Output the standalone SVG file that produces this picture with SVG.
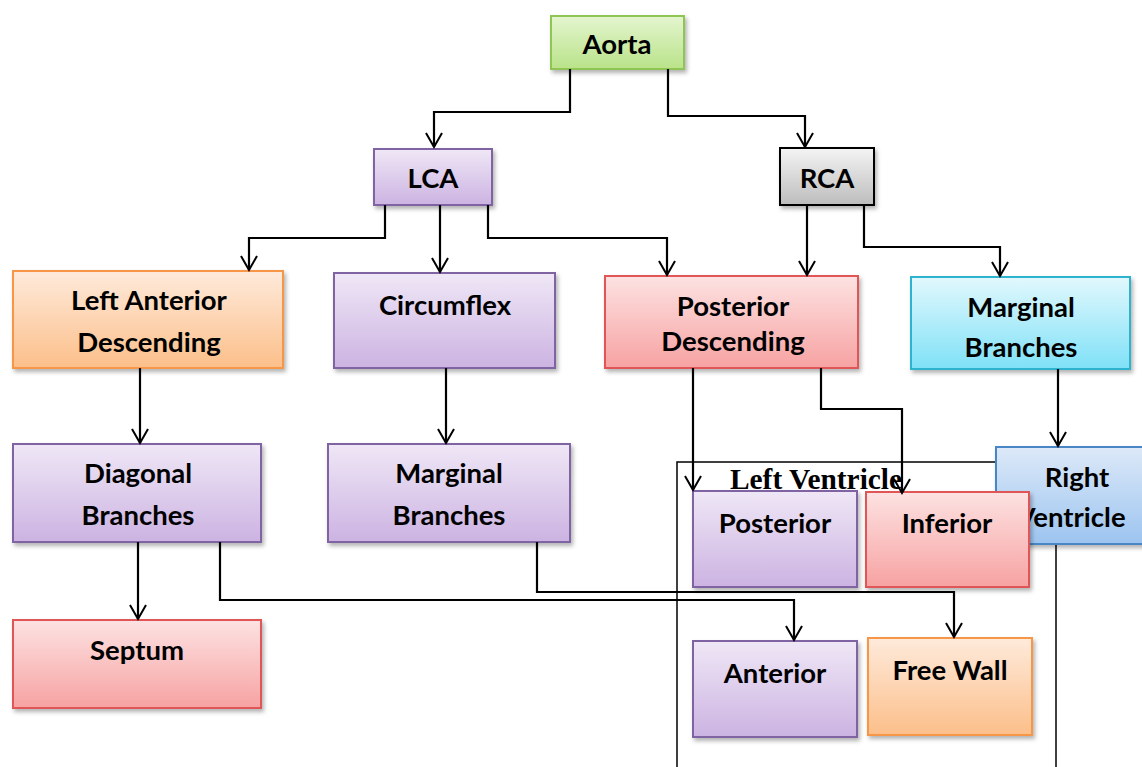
<svg xmlns="http://www.w3.org/2000/svg" width="1142" height="767" viewBox="0 0 1142 767">
<defs>
<linearGradient id="gGreen" x1="0" y1="0" x2="0" y2="1"><stop offset="0" stop-color="#e4f5cf"/><stop offset="1" stop-color="#b9e389"/></linearGradient>
<linearGradient id="gPurple" x1="0" y1="0" x2="0" y2="1"><stop offset="0" stop-color="#efe7f6"/><stop offset="1" stop-color="#ccb3e2"/></linearGradient>
<linearGradient id="gOrange" x1="0" y1="0" x2="0" y2="1"><stop offset="0" stop-color="#feeadb"/><stop offset="1" stop-color="#fcbf8a"/></linearGradient>
<linearGradient id="gRed" x1="0" y1="0" x2="0" y2="1"><stop offset="0" stop-color="#fde2e2"/><stop offset="1" stop-color="#f7a2a2"/></linearGradient>
<linearGradient id="gCyan" x1="0" y1="0" x2="0" y2="1"><stop offset="0" stop-color="#e2f8fd"/><stop offset="1" stop-color="#7fe1f7"/></linearGradient>
<linearGradient id="gBlue" x1="0" y1="0" x2="0" y2="1"><stop offset="0" stop-color="#dde9f8"/><stop offset="1" stop-color="#9cc4f0"/></linearGradient>
<linearGradient id="gGray" x1="0" y1="0" x2="0" y2="1"><stop offset="0" stop-color="#f4f4f4"/><stop offset="1" stop-color="#bdbdbd"/></linearGradient>
<filter id="sh" x="-10%" y="-10%" width="125%" height="130%"><feDropShadow dx="2" dy="3" stdDeviation="2" flood-color="#000" flood-opacity="0.3"/></filter>
<marker id="arr" viewBox="-16 -10 18 20" refX="0" refY="0" markerWidth="18" markerHeight="20" markerUnits="userSpaceOnUse" orient="auto" overflow="visible">
<path d="M-14,-8 L0,0 L-14,8" fill="none" stroke="#000" stroke-width="2"/>
</marker>
</defs>
<style>
.box{stroke-width:2;filter:url(#sh)}
.green{fill:url(#gGreen);stroke:#8fc553}
.purple{fill:url(#gPurple);stroke:#8064a2}
.orange{fill:url(#gOrange);stroke:#f79646}
.red{fill:url(#gRed);stroke:#e05555}
.cyan{fill:url(#gCyan);stroke:#2fb3cf}
.blue{fill:url(#gBlue);stroke:#4a86c5}
.gray{fill:url(#gGray);stroke:#000}
.t{font-family:Lato,"Liberation Sans",sans-serif;font-weight:700;font-size:27.5px;fill:#000;text-anchor:middle}
.c{fill:none;stroke:#000;stroke-width:2}
.ca{fill:none;stroke:#000;stroke-width:2.2;marker-end:url(#arr)}
.frame{fill:none;stroke:#000;stroke-width:1.5}
.lv{font-family:"Liberation Serif",serif;font-weight:700;font-size:29px;fill:#000}
</style>

<g id="lv-frame">
<rect class="frame" x="677" y="462" width="379" height="320"/>
<text class="lv" x="730" y="489" textLength="172" lengthAdjust="spacingAndGlyphs">Left Ventricle</text>
</g>

<g id="aorta"><rect class="box green" x="551" y="16" width="133" height="53"/><text class="t" x="617" y="54">Aorta</text></g>
<g id="lca"><rect class="box purple" x="374" y="149" width="118" height="56"/><text class="t" x="433" y="188">LCA</text></g>
<g id="rca"><rect class="box gray" x="780" y="148" width="94" height="57"/><text class="t" x="827" y="188">RCA</text></g>
<g id="lad"><rect class="box orange" x="13" y="271" width="270" height="97"/><text class="t" x="149" y="310">Left Anterior</text><text class="t" x="149" y="352">Descending</text></g>
<g id="circumflex"><rect class="box purple" x="334" y="273" width="221" height="95"/><text class="t" x="445" y="315">Circumflex</text></g>
<g id="pda"><rect class="box red" x="605" y="276" width="253" height="92"/><text class="t" x="733" y="316">Posterior</text><text class="t" x="733" y="351">Descending</text></g>
<g id="marginal-r"><rect class="box cyan" x="911" y="277" width="219" height="92"/><text class="t" x="1021" y="317">Marginal</text><text class="t" x="1021" y="357">Branches</text></g>
<g id="diagonal"><rect class="box purple" x="13" y="444" width="248" height="98"/><text class="t" x="138" y="483">Diagonal</text><text class="t" x="138" y="525">Branches</text></g>
<g id="marginal-l"><rect class="box purple" x="328" y="444" width="242" height="98"/><text class="t" x="449" y="483">Marginal</text><text class="t" x="449" y="525">Branches</text></g>
<g id="septum"><rect class="box red" x="13" y="620" width="248" height="88"/><text class="t" x="137" y="660">Septum</text></g>
<g id="right-ventricle"><rect class="box blue" x="996" y="447" width="170" height="97"/><text class="t" x="1077" y="487">Right</text><text class="t" x="1071" y="527">Ventricle</text></g>
<g id="posterior"><rect class="box purple" x="693" y="491" width="164" height="96"/><text class="t" x="775" y="533">Posterior</text></g>
<g id="inferior"><rect class="box red" x="866" y="492" width="163" height="95"/><text class="t" x="947" y="533">Inferior</text></g>
<g id="anterior"><rect class="box purple" x="693" y="641" width="164" height="96"/><text class="t" x="775" y="683">Anterior</text></g>
<g id="free-wall"><rect class="box orange" x="868" y="638" width="164" height="97"/><text class="t" x="950" y="680">Free Wall</text></g>

<g id="connectors">
<path class="ca" d="M570,69 V112 H434 V147"/>
<path class="ca" d="M668,69 V116 H805 V147"/>
<path class="ca" d="M385,205 V238 H249 V270"/>
<path class="ca" d="M440,205 V272"/>
<path class="ca" d="M488,205 V238 H667 V275"/>
<path class="ca" d="M807,205 V275"/>
<path class="ca" d="M864,205 V247 H1000 V276"/>
<path class="ca" d="M140,368 V443"/>
<path class="ca" d="M446,368 V443"/>
<path class="ca" d="M693,368 V490"/>
<path class="ca" d="M821,368 V409 H902 V493"/>
<path class="ca" d="M1058,369 V446"/>
<path class="ca" d="M138,542 V619"/>
<path class="ca" d="M220,542 V600 H794 V640"/>
<path class="ca" d="M537,542 V592 H954 V637"/>
</g>
</svg>
